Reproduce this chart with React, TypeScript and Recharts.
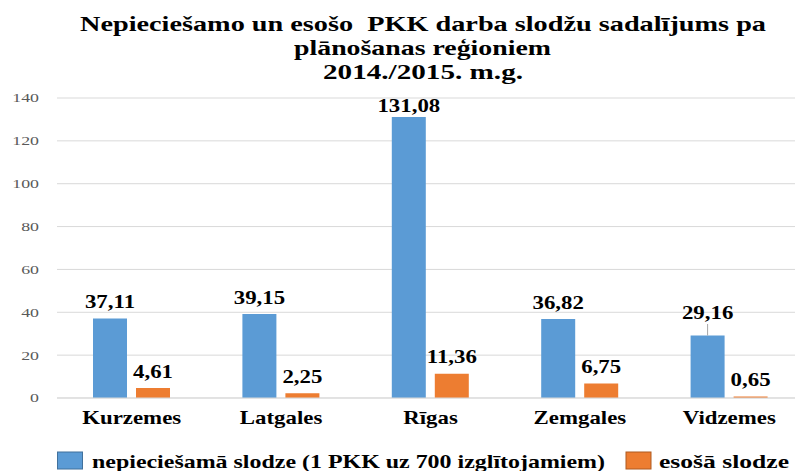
import React from 'react';
import { BarChart, Bar, XAxis, YAxis, CartesianGrid, LabelList } from 'recharts';

const regions = ['Kurzemes', 'Latgales', 'Rīgas', 'Zemgales', 'Vidzemes'];
const requiredLoad = [37.11, 39.15, 131.08, 36.82, 29.16];
const currentLoad = [4.61, 2.25, 11.36, 6.75, 0.65];
const yTicks = [0, 20, 40, 60, 80, 100, 120, 140];
const titleLines = [
  'Nepiecie\u0161amo un eso\u0161o  PKK darba slod\u017eu sadal\u012bjums pa',
  'pl\u0101no\u0161anas re\u0123ioniem',
  '2014./2015. m.g.',
];
const seriesNames = [
  'nepiecie\u0161am\u0101 slodze (1 PKK uz 700 izgl\u012btojamiem)',
  'eso\u0161\u0101 slodze',
];

const data = regions.map((region, i) => ({
  region,
  required: requiredLoad[i],
  current: currentLoad[i],
}));

const BLUE = '#5b9bd5';
const ORANGE = '#ed7d31';
const FONT = '"Liberation Serif", "Times New Roman", serif';
const SX = 1.27;

// styling: extra label lift per series/category index (pixels)
const labelLift: Record<string, number> = { 'required-2': -5.5, 'required-4': 6 };
const leaderFor: Record<string, boolean> = { 'required-4': true };

const fmt = (v: number) => v.toFixed(2).replace('.', ',');

const makeLabel = (key: string) => (props: any) => {
  const { x, y, width, value, index } = props;
  const id = `${key}-${index}`;
  const lift = 10.5 + (labelLift[id] || 0);
  const cx = Number(x) + Number(width) / 2;
  const by = Number(y) - lift;
  return (
    <g>
      {leaderFor[id] ? (
        <line x1={cx} x2={cx} y1={by + 5} y2={Number(y)} stroke="#a6a6a6" strokeWidth={1} />
      ) : null}
      <text
        transform={`translate(${cx},${by}) scale(${SX},1)`}
        textAnchor="middle"
        fontFamily={FONT}
        fontWeight="bold"
        fontSize={18}
        fill="#000"
      >
        {fmt(Number(value))}
      </text>
    </g>
  );
};

const YTick = (props: any) => {
  const { x, y, payload } = props;
  return (
    <text
      transform={`translate(${x},${y}) scale(1.37,1)`}
      textAnchor="end"
      dy="0.34em"
      fontFamily={FONT}
      fontSize={13}
      fill="#595959"
    >
      {payload.value}
    </text>
  );
};

const XTick = (props: any) => {
  const { x, y, payload } = props;
  return (
    <text
      transform={`translate(${x},${y}) scale(${SX},1)`}
      textAnchor="middle"
      dy="0.71em"
      fontFamily={FONT}
      fontWeight="bold"
      fontSize={18}
      fill="#000"
    >
      {payload.value}
    </text>
  );
};

export default function App() {
  return (
    <div
      style={{
        position: 'fixed',
        left: 0,
        top: 0,
        width: 795,
        height: 471,
        overflow: 'hidden',
        background: '#fff',
      }}
    >
      <BarChart
        width={804}
        height={471}
        data={data}
        margin={{ top: 98, right: 0, bottom: 43, left: 0 }}
        barSize={34}
        barGap={9}
      >
        <CartesianGrid vertical={false} stroke="#d9d9d9" />
        <XAxis
          dataKey="region"
          axisLine={{ stroke: '#d9d9d9' }}
          tickLine={false}
          tickSize={0}
          tickMargin={13}
          height={30}
          tick={<XTick />}
          interval={0}
        />
        <YAxis
          domain={[0, 140]}
          ticks={yTicks}
          width={57}
          axisLine={false}
          tickLine={false}
          tickSize={0}
          tickMargin={18}
          tick={<YTick />}
          interval={0}
        />
        <Bar dataKey="required" fill={BLUE} isAnimationActive={false}>
          <LabelList dataKey="required" content={makeLabel('required')} />
        </Bar>
        <Bar dataKey="current" fill={ORANGE} isAnimationActive={false}>
          <LabelList dataKey="current" content={makeLabel('current')} />
        </Bar>
      </BarChart>
      <svg
        width={795}
        height={471}
        style={{ position: 'absolute', left: 0, top: 0, pointerEvents: 'none' }}
      >
        <g fontFamily={FONT} fontWeight="bold" fill="#000" fontSize={21}>
          <text x={80} y={31} textLength={686} lengthAdjust="spacingAndGlyphs" style={{ whiteSpace: 'pre' }}>
            {titleLines[0]}
          </text>
          <text x={294} y={55} textLength={257} lengthAdjust="spacingAndGlyphs">
            {titleLines[1]}
          </text>
          <text x={323} y={79} textLength={200} lengthAdjust="spacingAndGlyphs">
            {titleLines[2]}
          </text>
        </g>
        <g>
          <rect x={57.5} y={452} width={25} height={17} fill={BLUE} stroke="#41719c" strokeWidth={1} />
          <text
            x={92}
            y={468}
            textLength={513}
            lengthAdjust="spacingAndGlyphs"
            fontFamily={FONT}
            fontWeight="bold"
            fontSize={19}
            fill="#000"
          >
            {seriesNames[0]}
          </text>
          <rect x={626} y={452} width={25} height={17} fill={ORANGE} stroke="#ae5a21" strokeWidth={1} />
          <text
            x={659}
            y={468}
            textLength={130}
            lengthAdjust="spacingAndGlyphs"
            fontFamily={FONT}
            fontWeight="bold"
            fontSize={19}
            fill="#000"
          >
            {seriesNames[1]}
          </text>
        </g>
      </svg>
    </div>
  );
}
